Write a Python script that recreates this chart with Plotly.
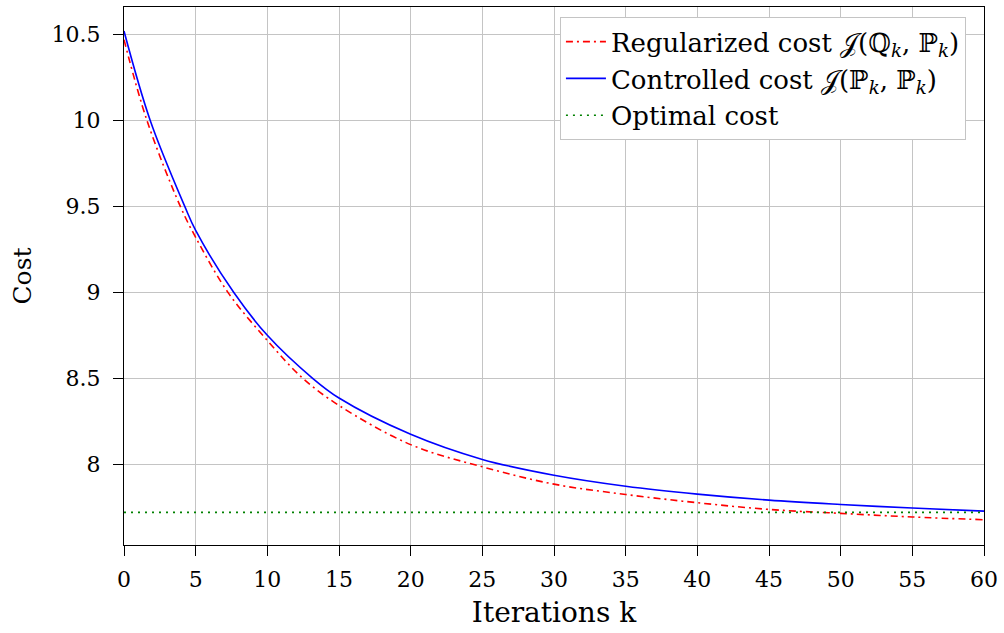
import plotly.graph_objects as go

# Data
k_ctrl = [0, 1.83, 4.24, 5, 7.65, 10, 13.16, 15, 20, 25, 30, 35, 40, 45, 50, 55, 60]
ctrl_cost = [10.52, 10.0, 9.5, 9.36, 9.0, 8.75, 8.5, 8.385, 8.174, 8.028, 7.936, 7.872, 7.826, 7.791, 7.766, 7.745, 7.727]

k_reg = [0, 1.6, 3.93, 5, 7.25, 10, 12.47, 15, 20, 25, 30, 35, 40, 45, 50, 55, 60]
reg_cost = [10.47, 10.0, 9.5, 9.32, 9.0, 8.72, 8.5, 8.342, 8.114, 7.985, 7.884, 7.824, 7.776, 7.737, 7.714, 7.693, 7.677]

k_opt = [0, 60]
opt_cost = [7.72, 7.72]

x_ticks = list(range(0, 61, 5))
y_ticks = [8, 8.5, 9, 9.5, 10, 10.5]
y_tick_labels = ["8", "8.5", "9", "9.5", "10", "10.5"]

FONT = "DejaVu Serif"

fig = go.Figure()
fig.add_trace(go.Scatter(
    x=k_reg, y=reg_cost, mode="lines", line_shape="spline",
    name="Regularized cost 𝒥(ℚ<sub><i>k</i></sub>, ℙ<sub><i>k</i></sub>)",
    line=dict(color="red", width=1.6, dash="7px,4px,2px,4px"),
))
fig.add_trace(go.Scatter(
    x=k_ctrl, y=ctrl_cost, mode="lines", line_shape="spline",
    name="Controlled cost 𝒥(ℙ<sub><i>k</i></sub>, ℙ<sub><i>k</i></sub>)",
    line=dict(color="blue", width=1.6),
))
fig.add_trace(go.Scatter(
    x=k_opt, y=opt_cost, mode="lines",
    name="Optimal cost",
    line=dict(color="green", width=1.6, dash="2px,5px"),
))

axis_common = dict(
    showgrid=True, gridcolor="#c4c4c4", gridwidth=1,
    showline=True, linecolor="black", linewidth=1.2, mirror=True,
    ticks="outside", ticklen=10, tickcolor="black", tickwidth=1,
    zeroline=False,
    tickfont=dict(family=FONT, size=22, color="black"),
)

fig.update_layout(
    width=1004, height=633,
    margin=dict(l=124, r=17, t=6, b=88),
    paper_bgcolor="white", plot_bgcolor="white",
    font=dict(family=FONT, size=22, color="black"),
    showlegend=True,
    legend=dict(
        x=0.979, y=0.981, xanchor="right", yanchor="top",
        bgcolor="white", bordercolor="#c4c4c4", borderwidth=1,
        font=dict(family=FONT, size=26, color="black"),
        itemwidth=40, tracegroupgap=0,
    ),
    xaxis=dict(
        range=[0, 60], tickvals=x_ticks,
        title=dict(text="Iterations k", font=dict(family=FONT, size=28), standoff=11),
        ticklabelstandoff=4,
        **axis_common,
    ),
    yaxis=dict(
        range=[7.53, 10.66], tickvals=y_ticks, ticktext=y_tick_labels,
        title=dict(text="Cost", font=dict(family=FONT, size=25), standoff=12),
        ticklabelstandoff=8,
        **axis_common,
    ),
)

fig.write_html("out.html", config={"displayModeBar": False},
               post_script="document.body.style.margin='0';")
